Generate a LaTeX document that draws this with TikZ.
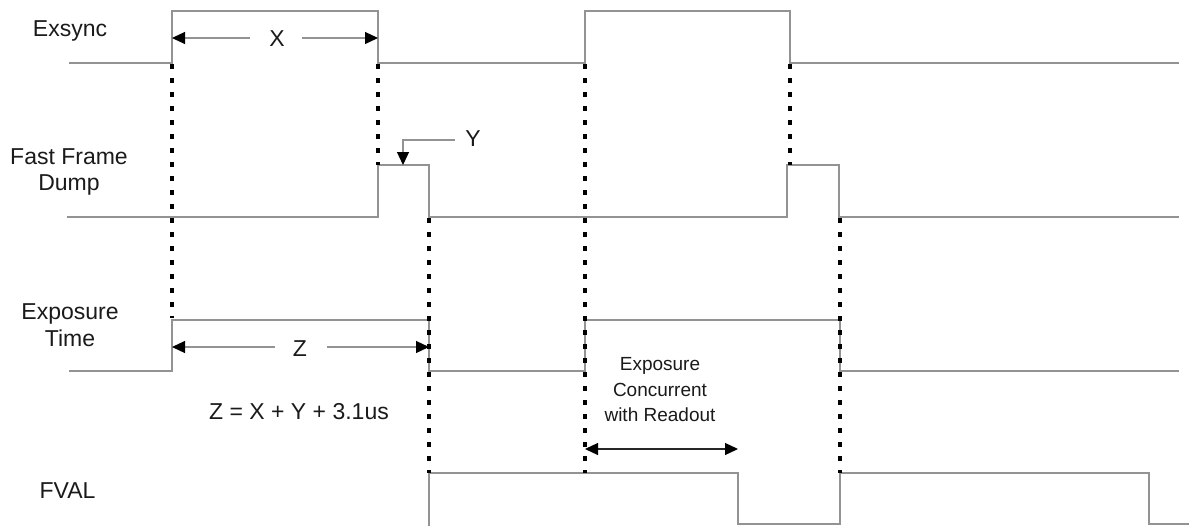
\documentclass[tikz,border=0pt]{standalone}
\usepackage{fontspec}
\setmainfont{Liberation Sans}
\usetikzlibrary{arrows.meta}
\definecolor{siggray}{HTML}{939393}
\definecolor{txt}{HTML}{1A1A1A}
\begin{document}
\begin{tikzpicture}[x=1pt,y=-1pt,
  sig/.style={draw=siggray, line width=1.4pt, line join=miter},
  vdot/.style={draw=black, line width=3.2pt, dash pattern=on 5pt off 9pt},
  dim/.style={draw=siggray, line width=1.2pt},
  tip/.style={-{Triangle[length=13pt,width=12pt,color=black]}},
  lab/.style={font=\fontsize{23}{28}\selectfont, text=txt, inner sep=0pt, anchor=base},
  small/.style={font=\fontsize{19}{24}\selectfont, text=txt, inner sep=0pt, anchor=base}]
\useasboundingbox (0,0) rectangle (1189,525);

% signal labels
\node[lab] (lExsync) at (70,36.5) {Exsync};
\node[lab] (lFast1) at (69,164) {Fast Frame};
\node[lab] (lFast2) at (69,190.5) {Dump};
\node[lab] (lExp1) at (70,319) {Exposure};
\node[lab] (lExp2) at (70,346) {Time};
\node[lab] (lFval) at (67.5,498) {FVAL};

% waveforms
\draw[sig] (69,63) -- (172,63) -- (172,11) -- (378,11) -- (378,63) -- (585,63) -- (585,11) -- (790,11) -- (790,63) -- (1179,63);
\draw[sig] (67,217) -- (378,217) -- (378,165) -- (429,165) -- (429,217) -- (787,217) -- (787,165) -- (839,165) -- (839,217) -- (1179,217);
\draw[sig] (69,371) -- (172,371) -- (172,320) -- (429,320) -- (429,371) -- (585,371) -- (585,320) -- (840,320) -- (840,371) -- (1179,371);
\draw[sig] (429,526) -- (429,473) -- (738,473) -- (738,524) -- (840,524) -- (840,473) -- (1149,473) -- (1149,524) -- (1189,524);

% dotted alignment lines
\coordinate (d1a) at (172,64); \coordinate (d1b) at (172,318);
\coordinate (d2a) at (378,64); \coordinate (d2b) at (378,165);
\coordinate (d3a) at (429,218); \coordinate (d3b) at (429,473);
\coordinate (d4a) at (585,64); \coordinate (d4b) at (585,473);
\coordinate (d5a) at (790,64); \coordinate (d5b) at (790,165);
\coordinate (d6a) at (840,218); \coordinate (d6b) at (840,473);
\foreach \n in {1,...,6} \draw[vdot] (d\n a) -- (d\n b);

% X dimension
\node[lab] (lX) at (277,46) {X};
\coordinate (xL) at (172,38); \coordinate (xR) at (378,38);
\draw[dim,tip] (250,38) -- (xL);
\draw[dim,tip] (302,38) -- (xR);

% Y marker
\node[lab] (lY) at (473,146) {Y};
\coordinate (yT) at (403,165);
\draw[dim,tip] (455,140) -- (403,140) -- (yT);

% Z dimension
\node[lab] (lZ) at (300,356) {Z};
\coordinate (zL) at (172,347); \coordinate (zR) at (429,347);
\draw[dim,tip] (275,347) -- (zL);
\draw[dim,tip] (327,347) -- (zR);

\node[lab] (lFormula) at (299,419) {Z = X + Y + 3.1us};

% concurrent exposure
\node[small] (lC1) at (660,370) {Exposure};
\node[small] (lC2) at (660,396) {Concurrent};
\node[small] (lC3) at (660,421) {with Readout};
\coordinate (cL) at (585,449); \coordinate (cR) at (738,449);
\draw[draw=black!85, line width=1.2pt, {Triangle[length=13pt,width=12pt,color=black]}-{Triangle[length=13pt,width=12pt,color=black]}] (cL) -- (cR);
\end{tikzpicture}
\end{document}
